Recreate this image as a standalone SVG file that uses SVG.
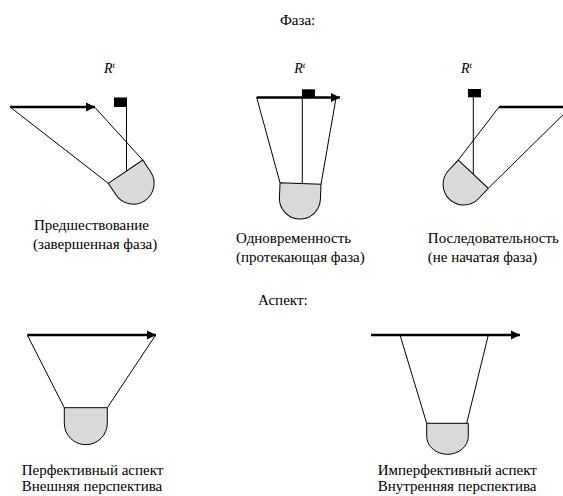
<svg xmlns="http://www.w3.org/2000/svg" width="563" height="496" viewBox="0 0 563 496" font-family="Liberation Serif, Times New Roman, serif">
<style>
  .t { font-size: 15px; fill: #000; }
  .r { font-style: italic; font-size: 14px; fill: #000; }
  .sup { font-size: 9px; }
  .thin { stroke: #000; stroke-width: 1; fill: none; }
  .thick { stroke: #000; stroke-width: 2.5; fill: none; }
  .head { fill: #d9d9d9; stroke: #000; stroke-width: 1; }
  .flag { fill: #000; }
</style>
<defs>
  <marker id="ah" markerUnits="userSpaceOnUse" markerWidth="10" markerHeight="10" viewBox="0 0 10 10" refX="9" refY="5" orient="auto">
    <path d="M0,0.6 L9,5 L0,9.4 Z" fill="#000"/>
  </marker>
</defs>
<rect width="563" height="496" fill="#fff"/>

<text class="t" x="280" y="25">Фаза:</text>
<text class="t" x="258" y="305">Аспект:</text>

<g id="fig-precedence">
  <text class="r" x="104" y="73">R<tspan class="sup" dy="-5">t</tspan></text>
  <rect class="flag" x="114" y="97.5" width="13" height="9.5"/>
  <line class="thin" x1="126.5" y1="107" x2="126.5" y2="171"/>
  <line class="thin" x1="10" y1="107" x2="108.3" y2="183.3"/>
  <line class="thin" x1="95" y1="107.5" x2="142.7" y2="160"/>
  <line class="thick" x1="10" y1="107" x2="95" y2="107" marker-end="url(#ah)"/>
  <path class="head" transform="translate(125.5,171.7) rotate(-34)" d="M-20.8,0 L20.8,0 L20.8,14 A20.8 20.8 0 0 1 -20.8,14 Z"/>
  <text class="t" x="34" y="229.5">Предшествование</text>
  <text class="t" x="33" y="248.5">(завершенная фаза)</text>
</g>

<g id="fig-simultaneity">
  <text class="r" x="294.3" y="73">R<tspan class="sup" dy="-5">t</tspan></text>
  <line class="thin" x1="256.7" y1="97.5" x2="280" y2="182.7"/>
  <line class="thin" x1="336" y1="98" x2="321" y2="184.3"/>
  <line class="thin" x1="302.3" y1="97.5" x2="302.3" y2="183.6"/>
  <rect class="flag" x="302" y="89.3" width="13" height="8.2"/>
  <line class="thick" x1="256.7" y1="97.5" x2="340" y2="97.5" marker-end="url(#ah)"/>
  <path class="head" transform="translate(300.5,183.5) rotate(2.2)" d="M-20.5,0 L20.5,0 L20.5,15 A20.5 20.5 0 0 1 -20.5,15 Z"/>
  <text class="t" x="236" y="242.5">Одновременность</text>
  <text class="t" x="236" y="262">(протекающая фаза)</text>
</g>

<g id="fig-succession">
  <text class="r" x="461" y="73">R<tspan class="sup" dy="-5">t</tspan></text>
  <rect class="flag" x="468" y="89" width="13" height="8.3"/>
  <line class="thin" x1="473.3" y1="97" x2="473.3" y2="176.5"/>
  <line class="thin" x1="499" y1="107" x2="458.3" y2="160"/>
  <line class="thin" x1="572" y1="106" x2="488.3" y2="188.3"/>
  <line class="thick" x1="499" y1="107" x2="570" y2="107"/>
  <path class="head" transform="translate(473.3,174.2) rotate(43.3)" d="M-20.6,0 L20.6,0 L20.6,14 A20.6 20.6 0 0 1 -20.6,14 Z"/>
  <text class="t" x="427.8" y="242.5">Последовательность</text>
  <text class="t" x="427.8" y="262">(не начатая фаза)</text>
</g>

<g id="fig-perfective">
  <line class="thin" x1="27.3" y1="335" x2="64.3" y2="407.7"/>
  <line class="thin" x1="155" y1="336" x2="107.3" y2="407.7"/>
  <line class="thick" x1="27.3" y1="335" x2="156" y2="335" marker-end="url(#ah)"/>
  <path class="head" transform="translate(85.8,407.7)" d="M-21.5,0 L21.5,0 L21.5,15.5 A21.5 21.5 0 0 1 -21.5,15.5 Z"/>
  <text class="t" x="21.7" y="475">Перфективный аспект</text>
  <text class="t" x="21.7" y="491">Внешняя перспектива</text>
</g>

<g id="fig-imperfective">
  <line class="thin" x1="400" y1="335" x2="426.7" y2="423.3"/>
  <line class="thin" x1="488.3" y1="335" x2="466.7" y2="423.3"/>
  <line class="thick" x1="371" y1="335" x2="520" y2="335" marker-end="url(#ah)"/>
  <path class="head" transform="translate(447.5,423.3)" d="M-20.8,0 L20.8,0 L20.8,13 A20.8 18 0 0 1 -20.8,13 Z"/>
  <text class="t" x="377.7" y="475">Имперфективный аспект</text>
  <text class="t" x="377.7" y="491">Внутренняя перспектива</text>
</g>
</svg>
